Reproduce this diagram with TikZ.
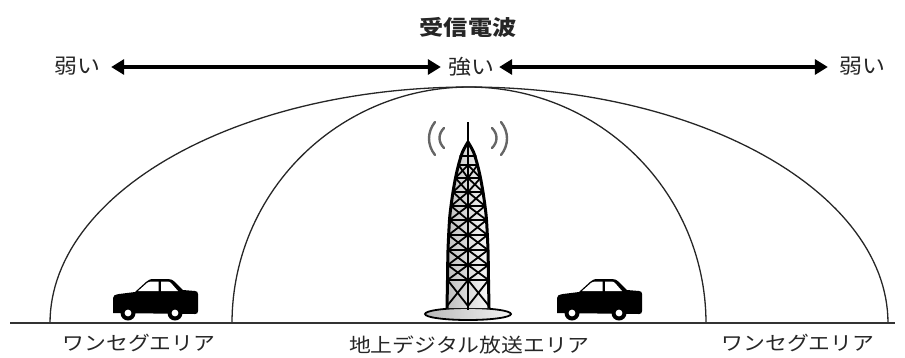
\documentclass[tikz,border=0pt]{standalone}
\usepackage{fontspec}
\newfontfamily\jp{Noto Sans CJK JP}[FakeStretch=1.12]
\newfontfamily\jptitle{Noto Sans CJK JP}[FakeStretch=1.15]
\usetikzlibrary{arrows.meta}

\tikzset{
  label/.style={font=\jp\fontsize{20.5}{20.5}\selectfont, inner sep=0pt, text=black!85},
  area/.style={font=\jp\fontsize{19.5}{19.5}\selectfont, inner sep=0pt, text=black!85},
  heading/.style={font=\jptitle\bfseries\fontsize{21}{21}\selectfont, inner sep=0pt, text=black!85},
  strength/.style={line width=4.8pt, {Triangle[length=13pt,width=15pt]}-{Triangle[length=13pt,width=15pt]}},
  zone/.style={line width=1.3pt, black!85},
  groundline/.style={line width=1.8pt, black!80},
  wave/.style={line width=2.4pt, black!60, line cap=round},
  lattice/.style={line width=1.8pt, black, line cap=round},
  car/.pic={
    \fill[black] (1,-7) -- (1,-22) .. controls (1,-25) and (3,-25) .. (7,-26)
      -- (23,-28) -- (34,-38) .. controls (36,-40) and (38,-41) .. (42,-41)
      -- (56,-41) .. controls (59,-41) and (61,-40) .. (63,-38) -- (71,-30)
      -- (83,-29) .. controls (85,-29) and (86,-28) .. (86,-26)
      -- (86,-9) .. controls (86,-7) and (85,-6) .. (83,-6) -- cycle;
    \fill[white] (26,-29) -- (35,-37) .. controls (36,-38) and (38,-38.5) .. (40,-38.5)
      -- (46.5,-38.5) -- (46.5,-29) -- cycle;
    \fill[white] (49,-38.5) -- (55,-38.5) .. controls (57,-38.5) and (58,-38) .. (59,-37)
      -- (66,-29) -- (49,-29) -- cycle;
    \foreach \wx in {16,63} {
      \fill[black] (\wx,-7) circle[radius=7.5];
      \fill[white] (\wx,-7) circle[radius=3.4];
    }
  }
}

\begin{document}
\begin{tikzpicture}[x=1pt, y=-1pt]
  \useasboundingbox (0,0) rectangle (905,357);

  % heading and signal-strength scale
  \node[heading] (title) at (468,27) {受信電波};
  \node[label] (weakL) at (77,66) {弱い};
  \node[label] (strong) at (471,67) {強い};
  \node[label] (weakR) at (862,66) {弱い};
  \draw[strength, shorten <=11pt, shorten >=7pt] (weakL.east |- 0,67) -- (strong.west);
  \draw[strength, shorten <=5pt, shorten >=11pt] (strong.east) -- (weakR.west |- 0,67);

  % coverage zones
  \draw[zone] plot[domain=180:360, samples=120] ({469+419*cos(\x)}, {323+236*sin(\x)});
  \draw[zone] plot[domain=180:360, samples=120] ({469+237*cos(\x)}, {323+236*sin(\x)});

  % ground
  \draw[groundline] (10,323) coordinate (g1) -- (895,323) coordinate (g2);

  % tower base
  \shade[left color=gray!55, right color=gray!10, draw=black, line width=1.8pt]
    (468,314) ellipse[x radius=43, y radius=6];

  % tower body
  \shade[left color=gray!50, right color=gray!5]
    (447,308) -- plot[smooth] coordinates {(447,308) (447.5,280) (448,250) (449.5,220) (451,206) (453,192) (455.5,178) (458.5,165) (462.5,152) (468,142)}
    -- plot[smooth] coordinates {(468,142) (473.5,152) (477.5,165) (480.5,178) (483,192) (485,206) (486.5,220) (488,250) (488.5,280) (489,308)} -- cycle;

  % lattice bracing
  \foreach \ya/\ha/\yb/\hb in {165/9.5/178/12.5, 178/12.5/192/15, 192/15/206/17, 206/17/220/18.5,
      220/18.5/235/19.5, 235/19.5/250/20, 250/20/265/20.3, 265/20.3/280/20.5, 280/20.5/306/21} {
    \draw[lattice] (468-\ha,\ya) -- (468+\ha,\ya);
    \draw[lattice] (468-\ha,\ya) -- (468,\yb) -- (468+\ha,\ya);
    \draw[lattice] (468-\hb,\yb) -- (468,\ya) -- (468+\hb,\yb);
  }
  \draw[lattice] (468-8,156) -- (468+8,156);

  % tower legs and mast
  \draw[line width=3pt, black, line join=round]
    plot[smooth] coordinates {(447,308) (447.5,280) (448,250) (449.5,220) (451,206) (453,192) (455.5,178) (458.5,165) (462.5,152) (468,142)}
    -- plot[smooth] coordinates {(468,142) (473.5,152) (477.5,165) (480.5,178) (483,192) (485,206) (486.5,220) (488,250) (488.5,280) (489,308)};
  \draw[line width=2.6pt, black] (468,122) -- (468,310);

  % radio waves
  \draw[wave] (435,122) .. controls (427,132) and (427,145) .. (435,155);
  \draw[wave] (444,128) .. controls (438,134) and (438,142) .. (444,148);
  \draw[wave] (501,122) .. controls (509,132) and (509,145) .. (501,155);
  \draw[wave] (492,128) .. controls (498,134) and (498,142) .. (492,148);

  % cars
  \pic (carL) at (112,320) {car};
  \pic (carR) at (556,320) {car};

  % area names
  \node[area] (oneSegL) at (139,343) {ワンセグエリア};
  \node[area] (digital) at (469,345) {地上デジタル放送エリア};
  \node[area] (oneSegR) at (798,343) {ワンセグエリア};
\end{tikzpicture}
\end{document}
